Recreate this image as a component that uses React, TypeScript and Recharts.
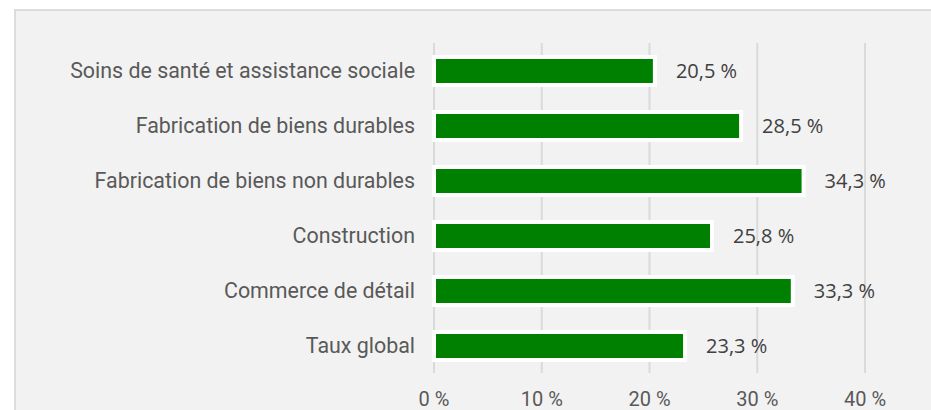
import { BarChart, Bar, XAxis, YAxis, CartesianGrid, LabelList } from 'recharts'

const categories = [
  'Soins de santé et assistance sociale',
  'Fabrication de biens durables',
  'Fabrication de biens non durables',
  'Construction',
  'Commerce de détail',
  'Taux global',
]
const rates = [20.5, 28.5, 34.3, 25.8, 33.3, 23.3]
const xTicks = [0, 10, 20, 30, 40]

const data = categories.map((name, i) => ({ name, rate: rates[i] }))

const fmt = (v: number) => `${v.toFixed(1).replace('.', ',')} %`

export default function App() {
  return (
    <div style={{ position: 'absolute', left: 0, top: 0, width: 931, height: 410, background: '#fff', overflow: 'hidden' }}>
      {/* fond gris du panneau */}
      <div
        style={{
          position: 'absolute',
          left: 14,
          top: 9,
          width: 940,
          height: 420,
          background: '#f2f2f2',
          border: '2px solid #dcdcdc',
        }}
      />
      <div style={{ position: 'absolute', left: 0, top: 0 }}>
        <BarChart
          width={931}
          height={410}
          data={data}
          layout="vertical"
          margin={{ top: 43, right: 66, bottom: 0, left: 0 }}
          barCategoryGap={0}
        >
          <CartesianGrid vertical horizontal={false} stroke="#dadada" strokeWidth={2} />
          <XAxis
            type="number"
            domain={[0, 40]}
            ticks={xTicks}
            height={37}
            axisLine={false}
            tickLine={false}
            tickSize={0}
            tickMargin={19}
            tickFormatter={(v: number) => `${v} %`}
            tick={{ fill: '#595959', fontSize: 20, fontFamily: 'Roboto' }}
            interval={0}
          />
          <YAxis
            type="category"
            dataKey="name"
            width={434}
            axisLine={false}
            tickLine={false}
            tickSize={0}
            tickMargin={19}
            tick={{ fill: '#595959', fontSize: 21.4, fontFamily: 'Roboto' }}
            interval={0}
          />
          <Bar dataKey="rate" fill="#008000" stroke="#ffffff" strokeWidth={4} barSize={28} isAnimationActive={false}>
            <LabelList
              dataKey="rate"
              position="right"
              offset={21}
              formatter={(v: any) => fmt(Number(v))}
              style={{ fill: '#404040', fontSize: 20, fontFamily: 'Open Sans' }}
            />
          </Bar>
        </BarChart>
      </div>
    </div>
  )
}
